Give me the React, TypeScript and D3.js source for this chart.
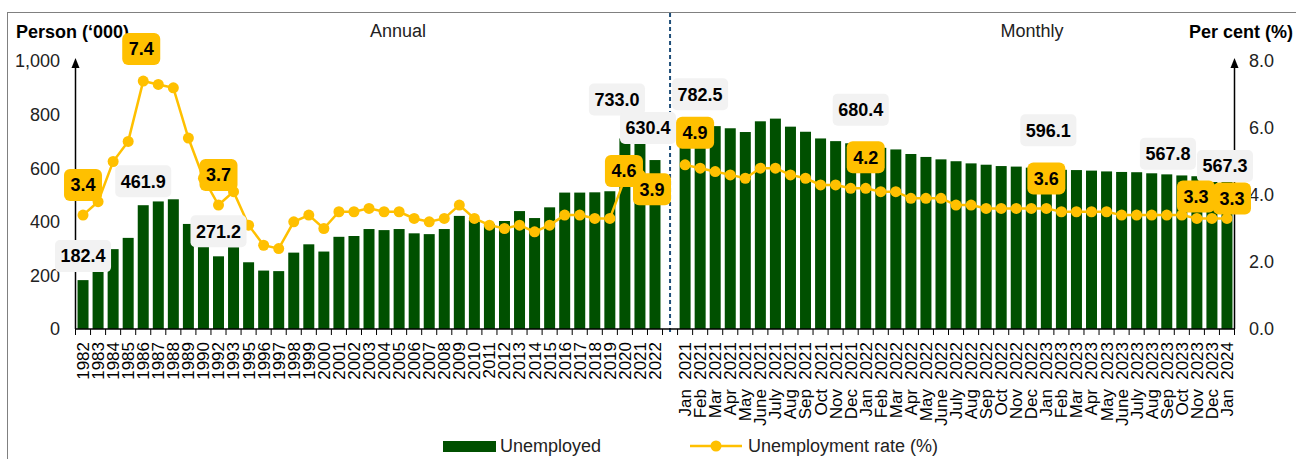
import React, { useEffect } from "react";
import * as d3 from "d3";

// ---------- data ----------
const annualYears = [
  "1982", "1983", "1984", "1985", "1986", "1987", "1988", "1989", "1990", "1992", "1993",
  "1995", "1996", "1997", "1998", "1999", "2000", "2001", "2002", "2003", "2004", "2005",
  "2006", "2007", "2008", "2009", "2010", "2011", "2012", "2013", "2014", "2015", "2016",
  "2017", "2018", "2019", "2020", "2021", "2022",
];
const annualUnemployed = [
  182.4, 215, 298, 340, 461.9, 476, 484, 392, 310, 271.2, 305,
  249, 218, 216, 285, 316, 289, 344, 347, 373, 369, 373,
  357, 354, 373, 422, 407, 392, 403, 440, 414, 454, 509,
  509, 510, 514, 711, 733.0, 630.4,
];
const annualRate = [
  3.4, 3.8, 5.0, 5.6, 7.4, 7.3, 7.2, 5.7, 4.5, 3.7, 4.1,
  3.1, 2.5, 2.4, 3.2, 3.4, 3.0, 3.5, 3.5, 3.6, 3.5, 3.5,
  3.3, 3.2, 3.3, 3.7, 3.3, 3.1, 3.0, 3.1, 2.9, 3.1, 3.4,
  3.4, 3.3, 3.3, 4.5, 4.6, 3.9,
];
const monthlyPeriods = [
  "Jan 2021", "Feb 2021", "Mar 2021", "Apr 2021", "May 2021", "June 2021", "July 2021",
  "Aug 2021", "Sep 2021", "Oct 2021", "Nov 2021", "Dec 2021",
  "Jan 2022", "Feb 2022", "Mar 2022", "Apr 2022", "May 2022", "June 2022", "July 2022",
  "Aug 2022", "Sep 2022", "Oct 2022", "Nov 2022", "Dec 2022",
  "Jan 2023", "Feb 2023", "Mar 2023", "Apr 2023", "May 2023", "June 2023", "July 2023",
  "Aug 2023", "Sep 2023", "Oct 2023", "Nov 2023", "Dec 2023",
  "Jan 2024",
];
const monthlyUnemployed = [
  782.5, 764, 757, 749, 735, 775, 785, 755, 736, 711, 701, 693,
  680.4, 676, 670, 653, 642, 633, 626, 618, 613, 608, 606, 602,
  596.1, 594, 593, 591, 588, 586, 585, 581, 577, 573, 570, 567.8,
  567.3,
];
const monthlyRate = [
  4.9, 4.8, 4.7, 4.6, 4.5, 4.8, 4.8, 4.6, 4.5, 4.3, 4.3, 4.2,
  4.2, 4.1, 4.1, 3.9, 3.9, 3.9, 3.7, 3.7, 3.6, 3.6, 3.6, 3.6,
  3.6, 3.5, 3.5, 3.5, 3.5, 3.4, 3.4, 3.4, 3.4, 3.4, 3.3, 3.3,
  3.3,
];
const leftTicks = [0, 200, 400, 600, 800, 1000];
const rightTicks = [0, 2, 4, 6, 8];

// labelled points (layout offsets of the callout boxes)
const barCallouts = [
  { key: "1982", dx: 0, dy: -24 },
  { key: "1986", dx: 0, dy: -24 },
  { key: "1992", dx: 0, dy: -25 },
  { key: "2021", dx: -23, dy: -33 },
  { key: "2022", dx: -7, dy: -32 },
  { key: "Jan 2021", dx: 15, dy: -25 },
  { key: "Jan 2022", dx: -5, dy: -37 },
  { key: "Jan 2023", dx: 2, dy: -39 },
  { key: "Dec 2023", dx: -44, dy: -23 },
  { key: "Jan 2024", dx: -2, dy: -11 },
];
const rateCallouts = [
  { key: "1982", dx: 0, dy: -30 },
  { key: "1986", dx: -2, dy: -32 },
  { key: "1992", dx: 0, dy: -30 },
  { key: "2021", dx: -16, dy: -4 },
  { key: "2022", dx: -3, dy: -9 },
  { key: "Jan 2021", dx: 10, dy: -32 },
  { key: "Jan 2022", dx: 0, dy: -31 },
  { key: "Jan 2023", dx: 0, dy: -30 },
  { key: "Dec 2023", dx: -16, dy: -22 },
  { key: "Jan 2024", dx: 5, dy: -20 },
];

// ---------- layout ----------
const W = 1296;
const H = 459;
const FONT = "'Liberation Sans', Arial, Helvetica, sans-serif";
const GREEN = "#005000";
const YELLOW = "#FFC000";
const plotLeft = 75.5;
const plotRight = 1234.5;
const plotBottom = 329;
const plotTop = 61;

type Row = { key: string; kind: "annual" | "gap" | "monthly"; value: number | null; rate: number | null };

const rows: Row[] = [
  ...annualYears.map((y, i) => ({ key: y, kind: "annual" as const, value: annualUnemployed[i], rate: annualRate[i] })),
  { key: "gap", kind: "gap" as const, value: null, rate: null },
  ...monthlyPeriods.map((m, i) => ({ key: m, kind: "monthly" as const, value: monthlyUnemployed[i], rate: monthlyRate[i] })),
];

const textWidth = (s: string, size: number) =>
  s.split("").reduce((w, c) => w + (c === "." || c === "," ? 0.278 : 0.556), 0) * size;

export default function App() {
  useEffect(() => {
    document.body.style.margin = "0";
  }, []);

  const x = d3
    .scaleBand<string>()
    .domain(rows.map((r) => r.key))
    .range([plotLeft, plotRight])
    .paddingInner(0.27)
    .paddingOuter(0.135);
  const yL = d3.scaleLinear().domain([0, 1000]).range([plotBottom, plotTop]);
  const yR = d3.scaleLinear().domain([0, 8]).range([plotBottom, plotTop]);
  const cx = (k: string) => (x(k) as number) + x.bandwidth() / 2;

  const line = d3
    .line<Row>()
    .defined((d) => d.rate !== null)
    .x((d) => cx(d.key))
    .y((d) => yR(d.rate as number));

  const byKey = new Map(rows.map((r) => [r.key, r]));
  const step = x.step();
  const boundaries = d3.range(rows.length + 1).map((i) => plotLeft + i * step);
  const gapX = cx("gap");

  return (
    <svg width={W} height={H} style={{ display: "block", fontFamily: FONT }}>
      <rect x={0} y={0} width={W} height={H} fill="#fff" />
      {/* outer frame */}
      <rect x={7.5} y={12.5} width={W + 20} height={H + 20} fill="none" stroke="#808080" strokeWidth={1} />

      {/* titles */}
      <text x={16} y={38} fontSize={18} fontWeight="bold" fill="#000">Person (‘000)</text>
      <text x={1189} y={38} fontSize={18} fontWeight="bold" fill="#000">Per cent (%)</text>
      <text x={398} y={37} fontSize={18} textAnchor="middle" fill="#222">Annual</text>
      <text x={1032} y={37} fontSize={18} textAnchor="middle" fill="#222">Monthly</text>

      {/* bars */}
      {rows.filter((r) => r.value !== null).map((r) => (
        <rect
          key={"b" + r.key}
          x={x(r.key)}
          y={yL(r.value as number)}
          width={x.bandwidth()}
          height={plotBottom - yL(r.value as number)}
          fill={GREEN}
        />
      ))}

      {/* divider */}
      <line x1={gapX} x2={gapX} y1={13} y2={plotBottom + 4} stroke="#1F4E79" strokeWidth={2} strokeDasharray="4 3" />

      {/* x axis */}
      <line x1={plotLeft} x2={plotRight} y1={plotBottom} y2={plotBottom} stroke="#000" strokeWidth={1.5} />
      {boundaries.map((bx, i) => (
        <line key={"t" + i} x1={bx} x2={bx} y1={plotBottom} y2={plotBottom + 6} stroke="#000" strokeWidth={1} />
      ))}
      {rows.map((r) => {
        if (r.kind === "gap") return null;
        const xc = cx(r.key);
        if (r.kind === "annual") {
          return (
            <text key={"xl" + r.key} transform={`translate(${xc},342) rotate(-90)`} textAnchor="end" dy="0.35em" fontSize={17} fill="#000">
              {r.key}
            </text>
          );
        }
        const [mon, yr] = r.key.split(" ");
        return (
          <g key={"xl" + r.key}>
            <text transform={`translate(${xc},342) rotate(-90)`} textAnchor="end" dy="0.35em" fontSize={17} fill="#000">{yr}</text>
            <text transform={`translate(${xc},389) rotate(-90)`} textAnchor="end" dy="0.35em" fontSize={17} fill="#000">{mon}</text>
          </g>
        );
      })}

      {/* left axis */}
      <line x1={plotLeft} x2={plotLeft} y1={plotBottom} y2={plotTop + 4} stroke="#000" strokeWidth={1.5} />
      <path d={`M${plotLeft},${plotTop - 3} L${plotLeft - 4},${plotTop + 7} L${plotLeft + 4},${plotTop + 7} Z`} fill="#000" />
      {leftTicks.map((t) => (
        <text key={"yl" + t} x={60} y={yL(t)} dy="0.35em" textAnchor="end" fontSize={18} fill="#222">
          {d3.format(",")(t)}
        </text>
      ))}

      {/* right axis */}
      <line x1={plotRight} x2={plotRight} y1={plotBottom} y2={plotTop + 4} stroke="#000" strokeWidth={1.5} />
      <path d={`M${plotRight},${plotTop - 3} L${plotRight - 4},${plotTop + 7} L${plotRight + 4},${plotTop + 7} Z`} fill="#000" />
      {rightTicks.map((t) => (
        <text key={"yr" + t} x={1249} y={yR(t)} dy="0.35em" textAnchor="start" fontSize={18} fill="#222">
          {d3.format(".1f")(t)}
        </text>
      ))}

      {/* rate line */}
      <path d={line(rows) || ""} fill="none" stroke={YELLOW} strokeWidth={2.5} />
      {rows.filter((r) => r.rate !== null).map((r) => (
        <circle key={"p" + r.key} cx={cx(r.key)} cy={yR(r.rate as number)} r={5.5} fill={YELLOW} />
      ))}

      {/* bar value callouts */}
      {barCallouts.map((c) => {
        const r = byKey.get(c.key)!;
        const label = d3.format(".1f")(r.value as number);
        const w = textWidth(label, 18) + 11;
        const h = 32;
        const bx = cx(c.key) + c.dx;
        const by = yL(r.value as number) + c.dy;
        return (
          <g key={"bc" + c.key}>
            <rect x={bx - w / 2} y={by - h / 2} width={w} height={h} rx={5} fill="#F2F2F2" />
            <text x={bx} y={by} dy="0.35em" textAnchor="middle" fontSize={18} fontWeight="bold" fill="#000">{label}</text>
          </g>
        );
      })}

      {/* rate callouts */}
      {rateCallouts.map((c) => {
        const r = byKey.get(c.key)!;
        const label = d3.format(".1f")(r.rate as number);
        const w = textWidth(label, 18) + 13;
        const h = 32;
        const bx = cx(c.key) + c.dx;
        const by = yR(r.rate as number) + c.dy;
        return (
          <g key={"rc" + c.key}>
            <rect x={bx - w / 2} y={by - h / 2} width={w} height={h} rx={6} fill={YELLOW} />
            <text x={bx} y={by} dy="0.35em" textAnchor="middle" fontSize={18} fontWeight="bold" fill="#000">{label}</text>
          </g>
        );
      })}

      {/* legend */}
      <rect x={443} y={441} width={53} height={11} fill={GREEN} />
      <text x={500} y={446} dy="0.35em" fontSize={18} fill="#222">Unemployed</text>
      <line x1={690} x2={742} y1={446} y2={446} stroke={YELLOW} strokeWidth={2.5} />
      <circle cx={716} cy={446} r={5.5} fill={YELLOW} />
      <text x={748} y={446} dy="0.35em" fontSize={18} fill="#222">Unemployment rate (%)</text>
    </svg>
  );
}
